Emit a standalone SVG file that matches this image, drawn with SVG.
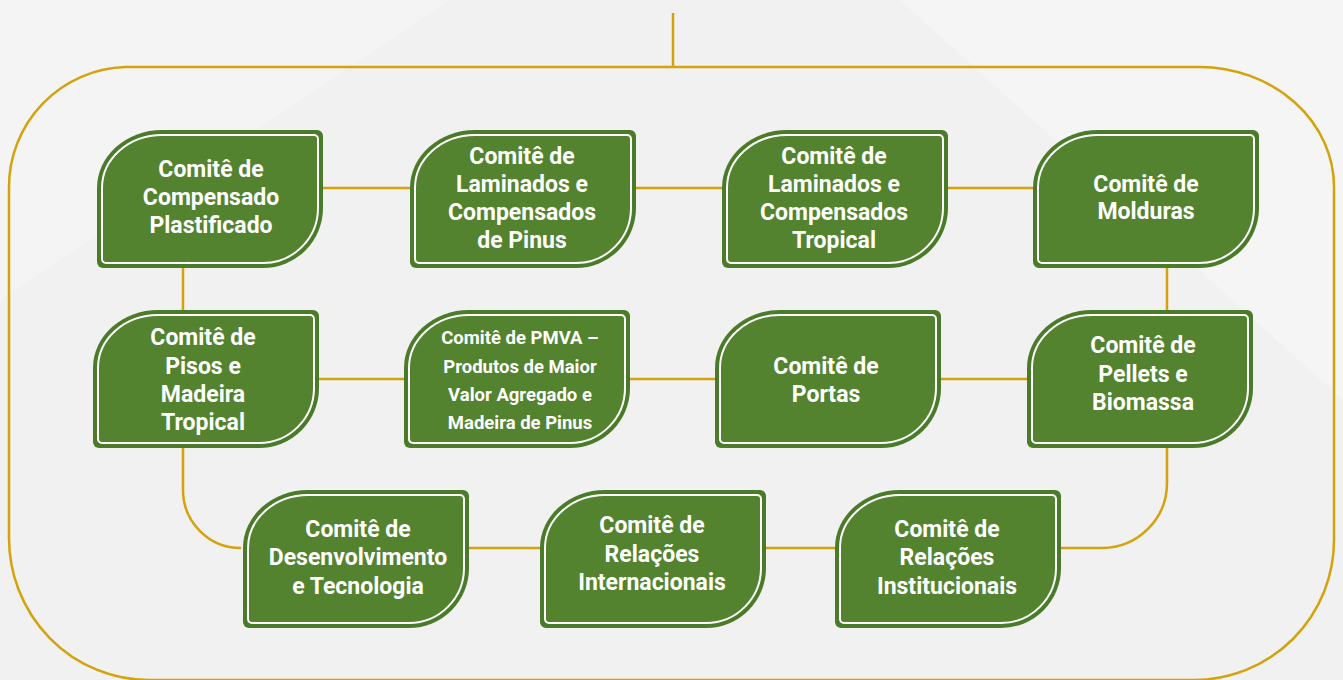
<svg xmlns="http://www.w3.org/2000/svg" width="1343" height="680" viewBox="0 0 1343 680">
<defs>
<style>
.bg{fill:#f1f1f1}
.conn{fill:none;stroke:#d4a20c;stroke-width:2.5}
.outer{fill:#4a7b29}
.inner{fill:#53832f;stroke:#ffffff;stroke-width:2}
.t{font-family:Roboto,"Liberation Sans",sans-serif;font-weight:bold;font-size:23px;fill:#ffffff;text-anchor:middle}
.ts{font-size:18.5px}
</style>
</defs>
<rect class="bg" x="0" y="0" width="1343" height="680"/>
<polygon points="0,0 450,0 0,300" fill="#f4f4f4"/>
<polygon points="900,0 1343,0 1343,400" fill="#f5f5f5"/>
<g id="connectors">
<path class="conn" d="M673,13 V67"/>
<path class="conn" d="M9,537 V187 A120,120 0 0 1 125,67 H1200 A135,120 0 0 1 1334,187 V540 A140,140 0 0 1 1194,680 H149 A140,142 0 0 1 9,537 Z"/>
<path class="conn" d="M323,188 H1033"/>
<path class="conn" d="M183,268 V310"/>
<path class="conn" d="M1167,268 V310"/>
<path class="conn" d="M319,379 H1027"/>
<path class="conn" d="M183,448 V490 A58,58 0 0 0 241,548"/>
<path class="conn" d="M469,548 H835"/>
<path class="conn" d="M1167,448 V483 A65,65 0 0 1 1102,548 H1061"/>
</g>
<g id="n1"><path class="outer" d="M162,130 H317 A6,6 0 0 1 323,136 V208 A60,60 0 0 1 263,268 H103 A6,6 0 0 1 97,262 V188 A65,58 0 0 1 162,130 Z"/><path class="inner" d="M162,135 H314 A4,4 0 0 1 318,139 V208 A55,55 0 0 1 263,263 H106 A4,4 0 0 1 102,259 V188 A60,53 0 0 1 162,135 Z"/>
<text class="t" x="211" y="177">Comitê de</text><text class="t" x="211" y="205">Compensado</text><text class="t" x="211" y="233">Plastificado</text></g>
<g id="n2"><path class="outer" d="M475,130 H630 A6,6 0 0 1 636,136 V208 A60,60 0 0 1 576,268 H416 A6,6 0 0 1 410,262 V188 A65,58 0 0 1 475,130 Z"/><path class="inner" d="M475,135 H627 A4,4 0 0 1 631,139 V208 A55,55 0 0 1 576,263 H419 A4,4 0 0 1 415,259 V188 A60,53 0 0 1 475,135 Z"/>
<text class="t" x="522" y="164">Comitê de</text><text class="t" x="522" y="192">Laminados e</text><text class="t" x="522" y="220">Compensados</text><text class="t" x="522" y="248">de Pinus</text></g>
<g id="n3"><path class="outer" d="M787,130 H942 A6,6 0 0 1 948,136 V208 A60,60 0 0 1 888,268 H728 A6,6 0 0 1 722,262 V188 A65,58 0 0 1 787,130 Z"/><path class="inner" d="M787,135 H939 A4,4 0 0 1 943,139 V208 A55,55 0 0 1 888,263 H731 A4,4 0 0 1 727,259 V188 A60,53 0 0 1 787,135 Z"/>
<text class="t" x="834" y="164">Comitê de</text><text class="t" x="834" y="192">Laminados e</text><text class="t" x="834" y="220">Compensados</text><text class="t" x="834" y="248">Tropical</text></g>
<g id="n4"><path class="outer" d="M1098,130 H1253 A6,6 0 0 1 1259,136 V208 A60,60 0 0 1 1199,268 H1039 A6,6 0 0 1 1033,262 V188 A65,58 0 0 1 1098,130 Z"/><path class="inner" d="M1098,135 H1250 A4,4 0 0 1 1254,139 V208 A55,55 0 0 1 1199,263 H1042 A4,4 0 0 1 1038,259 V188 A60,53 0 0 1 1098,135 Z"/>
<text class="t" x="1146" y="192">Comitê de</text><text class="t" x="1146" y="219">Molduras</text></g>
<g id="n5"><path class="outer" d="M158,310 H313 A6,6 0 0 1 319,316 V388 A60,60 0 0 1 259,448 H99 A6,6 0 0 1 93,442 V368 A65,58 0 0 1 158,310 Z"/><path class="inner" d="M158,315 H310 A4,4 0 0 1 314,319 V388 A55,55 0 0 1 259,443 H102 A4,4 0 0 1 98,439 V368 A60,53 0 0 1 158,315 Z"/>
<text class="t" x="203" y="345">Comitê de</text><text class="t" x="203" y="374">Pisos e</text><text class="t" x="203" y="402">Madeira</text><text class="t" x="203" y="430">Tropical</text></g>
<g id="n6"><path class="outer" d="M469,310 H624 A6,6 0 0 1 630,316 V388 A60,60 0 0 1 570,448 H410 A6,6 0 0 1 404,442 V368 A65,58 0 0 1 469,310 Z"/><path class="inner" d="M469,315 H621 A4,4 0 0 1 625,319 V388 A55,55 0 0 1 570,443 H413 A4,4 0 0 1 409,439 V368 A60,53 0 0 1 469,315 Z"/>
<text class="t ts" x="520" y="344">Comitê de PMVA –</text><text class="t ts" x="520" y="373">Produtos de Maior</text><text class="t ts" x="520" y="401">Valor Agregado e</text><text class="t ts" x="520" y="429">Madeira de Pinus</text></g>
<g id="n7"><path class="outer" d="M780,310 H935 A6,6 0 0 1 941,316 V388 A60,60 0 0 1 881,448 H721 A6,6 0 0 1 715,442 V368 A65,58 0 0 1 780,310 Z"/><path class="inner" d="M780,315 H932 A4,4 0 0 1 936,319 V388 A55,55 0 0 1 881,443 H724 A4,4 0 0 1 720,439 V368 A60,53 0 0 1 780,315 Z"/>
<text class="t" x="826" y="374">Comitê de</text><text class="t" x="826" y="402">Portas</text></g>
<g id="n8"><path class="outer" d="M1092,310 H1247 A6,6 0 0 1 1253,316 V388 A60,60 0 0 1 1193,448 H1033 A6,6 0 0 1 1027,442 V368 A65,58 0 0 1 1092,310 Z"/><path class="inner" d="M1092,315 H1244 A4,4 0 0 1 1248,319 V388 A55,55 0 0 1 1193,443 H1036 A4,4 0 0 1 1032,439 V368 A60,53 0 0 1 1092,315 Z"/>
<text class="t" x="1143" y="353">Comitê de</text><text class="t" x="1143" y="382">Pellets e</text><text class="t" x="1143" y="410">Biomassa</text></g>
<g id="n9"><path class="outer" d="M308,490 H463 A6,6 0 0 1 469,496 V568 A60,60 0 0 1 409,628 H249 A6,6 0 0 1 243,622 V548 A65,58 0 0 1 308,490 Z"/><path class="inner" d="M308,495 H460 A4,4 0 0 1 464,499 V568 A55,55 0 0 1 409,623 H252 A4,4 0 0 1 248,619 V548 A60,53 0 0 1 308,495 Z"/>
<text class="t" x="358" y="537">Comitê de</text><text class="t" x="358" y="565">Desenvolvimento</text><text class="t" x="358" y="594">e Tecnologia</text></g>
<g id="n10"><path class="outer" d="M605,490 H760 A6,6 0 0 1 766,496 V568 A60,60 0 0 1 706,628 H546 A6,6 0 0 1 540,622 V548 A65,58 0 0 1 605,490 Z"/><path class="inner" d="M605,495 H757 A4,4 0 0 1 761,499 V568 A55,55 0 0 1 706,623 H549 A4,4 0 0 1 545,619 V548 A60,53 0 0 1 605,495 Z"/>
<text class="t" x="652" y="533">Comitê de</text><text class="t" x="652" y="562">Relações</text><text class="t" x="652" y="590">Internacionais</text></g>
<g id="n11"><path class="outer" d="M900,490 H1055 A6,6 0 0 1 1061,496 V568 A60,60 0 0 1 1001,628 H841 A6,6 0 0 1 835,622 V548 A65,58 0 0 1 900,490 Z"/><path class="inner" d="M900,495 H1052 A4,4 0 0 1 1056,499 V568 A55,55 0 0 1 1001,623 H844 A4,4 0 0 1 840,619 V548 A60,53 0 0 1 900,495 Z"/>
<text class="t" x="947" y="537">Comitê de</text><text class="t" x="947" y="565">Relações</text><text class="t" x="947" y="594">Institucionais</text></g>
</svg>
